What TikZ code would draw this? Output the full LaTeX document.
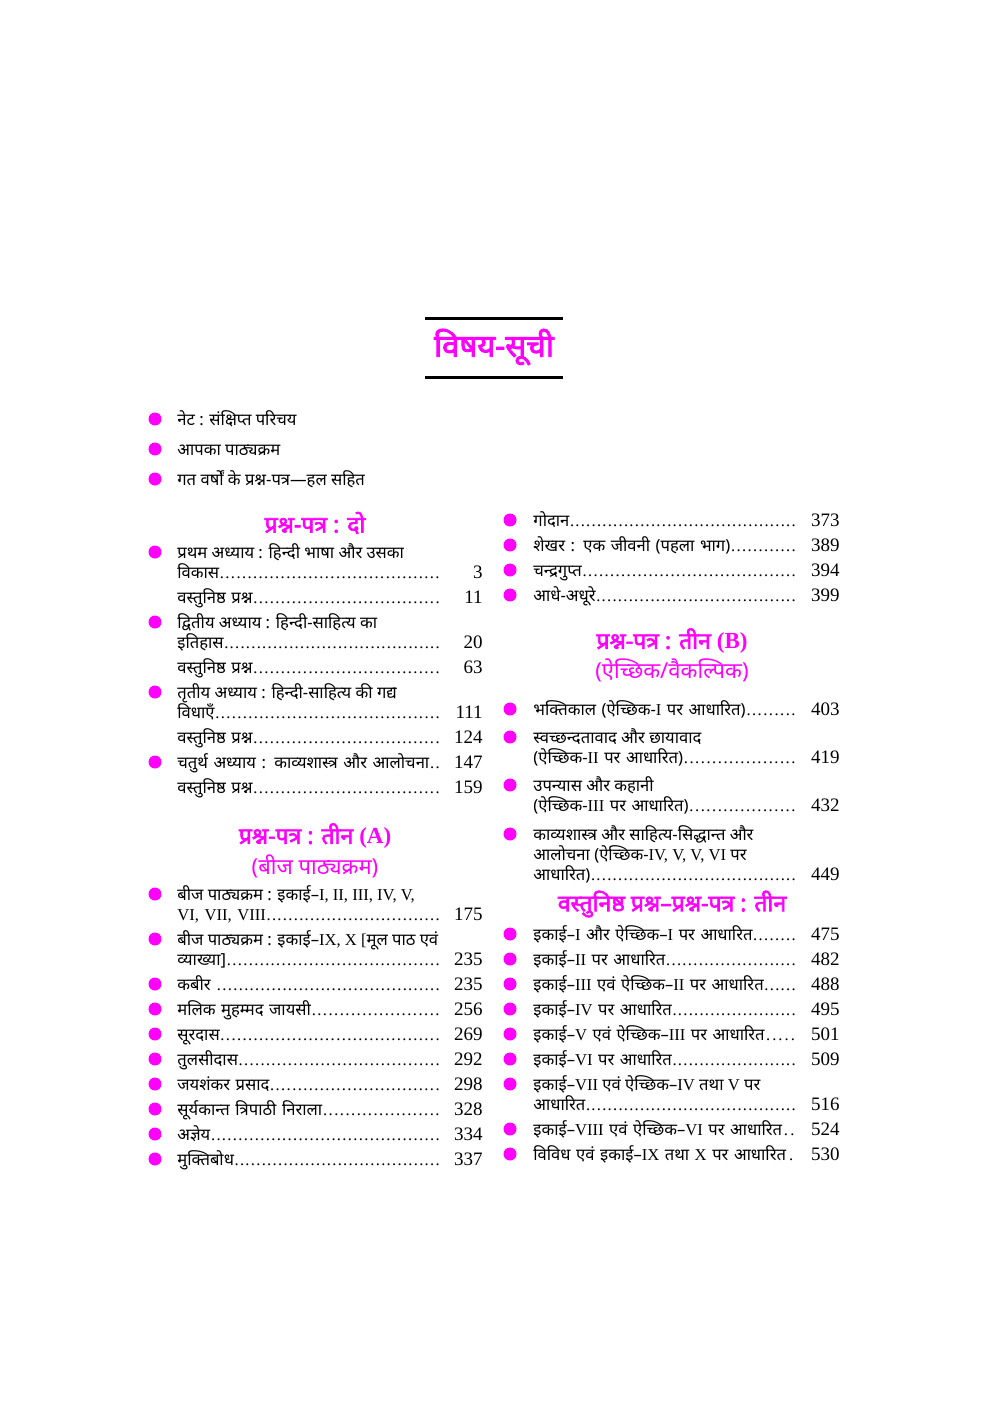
\documentclass[tikz,border=0pt]{standalone}
\usepackage{fontspec}
\setmainfont{Noto Sans}[Script=Devanagari,BoldFont=Noto Sans,BoldFeatures={FakeBold=2.5}]
\newfontfamily\latfont{Liberation Serif}
\definecolor{tocmagenta}{RGB}{255,0,255}
\newcommand{\rn}[1]{{\latfont #1}}
\newcommand{\leaderdots}{{\latfont\xleaders\hbox to 2.7pt{\hss.\hss}\hskip 0pt plus 1filll\kern0pt}}
\usetikzlibrary{positioning}

\begin{document}
\begin{tikzpicture}[x=0.5pt,y=-0.5pt,
  bul/.style={circle,fill=tocmagenta,inner sep=0pt,minimum size=6.5pt},
  entry/.style={anchor=base west,inner sep=0pt,font=\fontsize{8.3}{10}\selectfont},
  leadline/.style={entry,text width=131.5pt,align=left},
  num/.style={anchor=base east,inner sep=0pt,font=\latfont\fontsize{9.5}{10}\selectfont},
  head/.style={inner sep=0pt,text=tocmagenta,font=\bfseries\fontsize{11.5}{13}\selectfont},
  subhead/.style={inner sep=0pt,text=tocmagenta,font=\fontsize{11}{13}\selectfont}]
  \useasboundingbox (0,0) rectangle (992,1403);

  % title with rules
  \node[inner sep=0pt,text=tocmagenta,font=\bfseries\fontsize{15.5}{18}\selectfont] (title) at (494,347) {विषय-सूची};
  \draw[line width=1.5pt] (425,318) -- (563,318);
  \draw[line width=1.5pt] (425,377) -- (563,377);

  % intro list
  \foreach \y/\t in {419/{नेट : संक्षिप्त परिचय},449/{आपका पाठ्यक्रम},479/{गत वर्षों के प्रश्न-पत्र—हल सहित}} {
    \node[bul] (ib\y) at (155,\y) {};
    \node[entry] (it\y) at (177,\y+6) {\t};
  }

  % left column: paper two
  \node[head] (hdo) at (315,523) {प्रश्न-पत्र : दो};
  \node[bul] (lb552) at (155,552) {};
  \node[entry] (la558) at (177,558) {प्रथम अध्याय : हिन्दी भाषा और उसका};
  \node[leadline] (lt578) at (177,578) {विकास\leaderdots};
  \node[num] (ln578) at (483,578) {3};
  \node[bul] (lb622) at (155,622) {};
  \node[entry] (la628) at (177,628) {द्वितीय अध्याय : हिन्दी-साहित्य का};
  \node[leadline] (lt648) at (177,648) {इतिहास\leaderdots};
  \node[num] (ln648) at (483,648) {20};
  \node[bul] (lb692) at (155,692) {};
  \node[entry] (la698) at (177,698) {तृतीय अध्याय : हिन्दी-साहित्य की गद्य};
  \node[leadline] (lt718) at (177,718) {विधाएँ\leaderdots};
  \node[num] (ln718) at (483,718) {111};
  \node[bul] (lb762) at (155,762) {};
  \node[leadline] (lt768) at (177,768) {चतुर्थ अध्याय : काव्यशास्त्र और आलोचना\leaderdots};
  \node[num] (ln768) at (483,768) {147};
  \foreach \y/\n in {603/11,673/63,743/124,793/159} {
    \node[leadline] (lt\y) at (177,\y) {वस्तुनिष्ठ प्रश्न\leaderdots};
    \node[num] (ln\y) at (483,\y) {\n};
  }

  % left column: paper three (A)
  \node[head] (hta) at (315,836) {प्रश्न-पत्र : तीन \rn{(A)}};
  \node[subhead] (sta) at (315,866) {(बीज पाठ्यक्रम)};
  \node[bul] (lb894) at (155,894) {};
  \node[entry] (la900) at (177,900) {बीज पाठ्यक्रम : इकाई–\rn{I, II, III, IV, V,}};
  \node[leadline] (lt920) at (177,920) {\rn{VI, VII, VIII}\leaderdots};
  \node[num] (ln920) at (483,920) {175};
  \node[bul] (lb939) at (155,939) {};
  \node[entry] (la945) at (177,945) {बीज पाठ्यक्रम : इकाई–\rn{IX, X [}मूल पाठ एवं};
  \node[leadline] (lt965) at (177,965) {व्याख्या]\leaderdots};
  \node[num] (ln965) at (483,965) {235};
  \foreach \y/\t/\n in {984/{कबीर }/235,1009/{मलिक मुहम्मद जायसी}/256,1034/{सूरदास}/269,
      1059/{तुलसीदास}/292,1084/{जयशंकर प्रसाद}/298,1109/{सूर्यकान्त त्रिपाठी निराला}/328,
      1134/{अज्ञेय}/334,1159/{मुक्तिबोध}/337} {
    \node[bul] (lb\y) at (155,\y) {};
    \node[leadline] (lt\y) at (177,\y+6) {\t\leaderdots};
    \node[num] (ln\y) at (483,\y+6) {\n};
  }

  % right column: texts
  \foreach \y/\t/\n in {520/{गोदान}/373,545/{शेखर : एक जीवनी (पहला भाग)}/389,
      570/{चन्द्रगुप्त}/394,595/{आधे-अधूरे}/399,709/{भक्तिकाल (ऐच्छिक-\rn{I} पर आधारित)}/403} {
    \node[bul] (rb\y) at (510,\y) {};
    \node[leadline] (rt\y) at (533,\y+6) {\t\leaderdots};
    \node[num] (rn\y) at (840,\y+6) {\n};
  }

  % right column: paper three (B)
  \node[head] (htb) at (672,641) {प्रश्न-पत्र : तीन \rn{(B)}};
  \node[subhead] (stb) at (672,670) {(ऐच्छिक/वैकल्पिक)};
  \node[bul] (rb737) at (510,737) {};
  \node[entry] (ra743) at (533,743) {स्वच्छन्दतावाद और छायावाद};
  \node[leadline] (rt763) at (533,763) {(ऐच्छिक-\rn{II} पर आधारित)\leaderdots};
  \node[num] (rn763) at (840,763) {419};
  \node[bul] (rb785) at (510,785) {};
  \node[entry] (ra791) at (533,791) {उपन्यास और कहानी};
  \node[leadline] (rt811) at (533,811) {(ऐच्छिक-\rn{III} पर आधारित)\leaderdots};
  \node[num] (rn811) at (840,811) {432};
  \node[bul] (rb834) at (510,834) {};
  \node[entry] (ra840) at (533,840) {काव्यशास्त्र और साहित्य-सिद्धान्त और};
  \node[entry] (ra860) at (533,860) {आलोचना (ऐच्छिक-\rn{IV, V, V, VI} पर};
  \node[leadline] (rt880) at (533,880) {आधारित)\leaderdots};
  \node[num] (rn880) at (840,880) {449};

  % right column: objective questions
  \node[head] (hvp) at (672,904) {वस्तुनिष्ठ प्रश्न–प्रश्न-पत्र : तीन};
  \foreach \y/\t/\n in {934/{इकाई–\rn{I} और ऐच्छिक–\rn{I} पर आधारित}/475,959/{इकाई–\rn{II} पर आधारित}/482,
      984/{इकाई–\rn{III} एवं ऐच्छिक–\rn{II} पर आधारित}/488,1009/{इकाई–\rn{IV} पर आधारित}/495,
      1034/{इकाई–\rn{V} एवं ऐच्छिक–\rn{III} पर आधारित}/501,1059/{इकाई–\rn{VI} पर आधारित}/509,
      1129/{इकाई–\rn{VIII} एवं ऐच्छिक–\rn{VI} पर आधारित}/524,1154/{विविध एवं इकाई–\rn{IX} तथा \rn{X} पर आधारित}/530} {
    \node[bul] (rb\y) at (510,\y) {};
    \node[leadline] (rt\y) at (533,\y+6) {\t\leaderdots};
    \node[num] (rn\y) at (840,\y+6) {\n};
  }
  \node[bul] (rb1084) at (510,1084) {};
  \node[entry] (ra1090) at (533,1090) {इकाई–\rn{VII} एवं ऐच्छिक–\rn{IV} तथा \rn{V} पर};
  \node[leadline] (rt1110) at (533,1110) {आधारित\leaderdots};
  \node[num] (rn1110) at (840,1110) {516};
\end{tikzpicture}
\end{document}
